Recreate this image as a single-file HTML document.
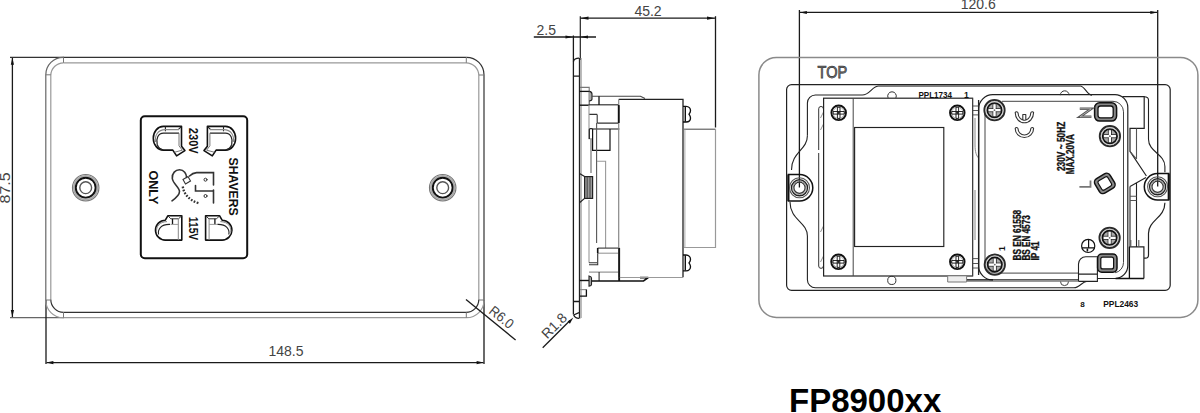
<!DOCTYPE html>
<html><head><meta charset="utf-8">
<style>
html,body{margin:0;padding:0;background:#fff;}
body{width:1200px;height:413px;overflow:hidden;}
svg{display:block;}
text{font-family:"Liberation Sans",sans-serif;}
.d{stroke:#1a1a1a;stroke-width:1.3;fill:none;}
.k{stroke:#333;stroke-width:1.2;fill:none;}
.g{stroke:#999;stroke-width:1.2;fill:none;}
.m{stroke:#666;stroke-width:1.2;fill:none;}
.ar{fill:#111;stroke:none;}
.dim{font-size:14px;fill:#444;}
</style></head>
<body>
<svg width="1200" height="413" viewBox="0 0 1200 413">

<!-- ============ LEFT VIEW (front) ============ -->
<g id="front">
  <!-- 87.5 dimension -->
  <line class="k" x1="10" y1="57.3" x2="64" y2="57.3"/>
  <line class="m" x1="10" y1="317.6" x2="64" y2="317.6"/>
  <line class="d" x1="12.4" y1="58" x2="12.4" y2="317"/>
  <path class="ar" d="M12.4 57.8 L14 64.7 L10.8 64.7Z"/>
  <path class="ar" d="M12.4 317 L14 310.1 L10.8 310.1Z"/>
  <text class="dim" transform="translate(10.3,187.9) rotate(-90)" text-anchor="middle" font-size="15" textLength="31" lengthAdjust="spacingAndGlyphs">87.5</text>
  <!-- 148.5 dimension -->
  <line class="d" x1="46" y1="300" x2="46" y2="364"/>
  <line class="d" x1="484" y1="300" x2="484" y2="364"/>
  <line class="d" x1="46.5" y1="362.6" x2="483.5" y2="362.6"/>
  <path class="ar" d="M46.5 362.6 L53.4 361 L53.4 364.2Z"/>
  <path class="ar" d="M483.5 362.6 L476.6 361 L476.6 364.2Z"/>
  <text class="dim" x="286" y="356" text-anchor="middle">148.5</text>
  <!-- plate outline -->
  <path class="k" d="M63.3 57.3 H466.5"/>
  <path class="k" d="M466.5 57.3 A17.5 17.5 0 0 1 484 74.8 V300.2"/>
  <path class="m" d="M45.8 300.2 V74.8 A17.5 17.5 0 0 1 63.3 57.3"/>
  <path class="g" d="M484 300.2 A17.5 17.5 0 0 1 466.5 317.7 H63.3 A17.5 17.5 0 0 1 45.8 300.2"/>
  <path class="g" d="M63.8 62.8 H466 A12.8 12.8 0 0 1 478.8 75.6 V299.5"/>
  <path class="g" d="M50.8 299.5 V75.6 A12.8 12.8 0 0 1 63.6 62.8"/>
  <path class="k" d="M478.8 299.5 A12.8 12.8 0 0 1 466 312.3 H63.6"/>
  <path class="k" d="M63.6 312.3 A12.8 12.8 0 0 1 50.8 299.5"/>
  <path d="M45.8 74.8 H50.8 M63.5 57.3 V62.8 M466.3 57.3 V62.8 M479 75 H484 M479 300 H484 M466.3 312.3 V317.7 M63.5 312.3 V317.7 M45.8 300 H50.8" stroke="#777" stroke-width="1" fill="none"/>
  <!-- R6.0 leader -->
  <line class="d" x1="466" y1="299.5" x2="515.6" y2="340"/>
  <text class="dim" transform="translate(488,312.5) rotate(39)" font-size="13" textLength="27" lengthAdjust="spacingAndGlyphs">R6.0</text>
  <!-- screws -->
  <g id="scr" fill="none">
    <circle cx="85.7" cy="187.7" r="13.2" stroke="#777" stroke-width="1.2"/>
    <circle cx="85.7" cy="187.7" r="11.8" stroke="#aaa" stroke-width="1.8"/>
    <circle cx="85.7" cy="187.7" r="9.9" stroke="#111" stroke-width="1.9"/>
    <circle cx="85.7" cy="187.7" r="5.9" stroke="#555" stroke-width="1.4"/>
  </g>
  <g transform="translate(357,0)" fill="none">
    <circle cx="85.7" cy="187.7" r="13.2" stroke="#777" stroke-width="1.2"/>
    <circle cx="85.7" cy="187.7" r="11.8" stroke="#aaa" stroke-width="1.8"/>
    <circle cx="85.7" cy="187.7" r="9.9" stroke="#111" stroke-width="1.9"/>
    <circle cx="85.7" cy="187.7" r="5.9" stroke="#555" stroke-width="1.4"/>
  </g>
  <!-- face panel -->
  <rect x="140.8" y="116.2" width="106.4" height="142" rx="4" fill="none" stroke="#111" stroke-width="2"/>
  <!-- face panel contents -->
  <g id="sockTL" stroke-linejoin="round">
    <path d="M163.3 126.4 H181.5 V146.2 L184.9 150.6 L176.6 155.9 L172.8 150.1 H163.3 A10 11.85 0 0 1 163.3 126.4 Z" fill="none" stroke="#111" stroke-width="1.6"/>
    <path d="M165.4 126.6 V131.2 M178.2 129.6 L181.3 126.6" stroke="#222" stroke-width="1.1" fill="none"/>
    <path d="M179 129.6 H165.4 C157.5 129.6 154.5 136 155.6 142" stroke="#888" stroke-width="1.1" fill="none"/>
    <path d="M179 133.2 H163.5 C158 133.2 155.8 139 157.2 144.5 C158.3 147.5 160.5 149.5 163.3 150" stroke="#222" stroke-width="1.2" fill="none"/>
    <path d="M179 133.2 V145.8 L182.3 150.2 M174.6 152.2 L182.3 150.2" stroke="#777" stroke-width="1" fill="none"/>
  </g>
  <g transform="translate(388.9,0) scale(-1,1)" stroke-linejoin="round">
    <path d="M163.3 126.4 H181.5 V146.2 L184.9 150.6 L176.6 155.9 L172.8 150.1 H163.3 A10 11.85 0 0 1 163.3 126.4 Z" fill="none" stroke="#111" stroke-width="1.6"/>
    <path d="M165.4 126.6 V131.2 M178.2 129.6 L181.3 126.6" stroke="#222" stroke-width="1.1" fill="none"/>
    <path d="M179 129.6 H165.4 C157.5 129.6 154.5 136 155.6 142" stroke="#888" stroke-width="1.1" fill="none"/>
    <path d="M179 133.2 H163.5 C158 133.2 155.8 139 157.2 144.5 C158.3 147.5 160.5 149.5 163.3 150" stroke="#222" stroke-width="1.2" fill="none"/>
    <path d="M179 133.2 V145.8 L182.3 150.2 M174.6 152.2 L182.3 150.2" stroke="#777" stroke-width="1" fill="none"/>
  </g>
  <g id="sockBL" stroke-linejoin="round">
    <path d="M167.8 215.8 H181.8 V240.1 H165.3 A9.8 9.95 0 0 1 165.3 220.2 L167.8 215.8 Z" fill="none" stroke="#111" stroke-width="1.6"/>
    <path d="M167.8 215.8 L170.8 218.8 H178.5 L181.8 215.8" stroke="#333" stroke-width="1" fill="none"/>
    <path d="M178.3 218.8 V240" stroke="#888" stroke-width="1" fill="none"/>
    <path d="M172.5 218.8 V224.4" stroke="#111" stroke-width="1.3" fill="none"/>
    <path d="M170.5 224.4 H178.3" stroke="#999" stroke-width="1" fill="none"/>
    <path d="M170 224.4 C161 224 157.5 229.5 158.6 234.5" stroke="#222" stroke-width="1.1" fill="none"/>
    <path d="M167 221.6 C159.5 221.8 156 226.5 156.6 232" stroke="#888" stroke-width="1" fill="none"/>
  </g>
  <g transform="translate(387.4,0) scale(-1,1)" stroke-linejoin="round">
    <path d="M167.8 215.8 H181.8 V240.1 H165.3 A9.8 9.95 0 0 1 165.3 220.2 L167.8 215.8 Z" fill="none" stroke="#111" stroke-width="1.6"/>
    <path d="M167.8 215.8 L170.8 218.8 H178.5 L181.8 215.8" stroke="#333" stroke-width="1" fill="none"/>
    <path d="M178.3 218.8 V240" stroke="#888" stroke-width="1" fill="none"/>
    <path d="M172.5 218.8 V224.4" stroke="#111" stroke-width="1.3" fill="none"/>
    <path d="M170.5 224.4 H178.3" stroke="#999" stroke-width="1" fill="none"/>
    <path d="M170 224.4 C161 224 157.5 229.5 158.6 234.5" stroke="#222" stroke-width="1.1" fill="none"/>
    <path d="M167 221.6 C159.5 221.8 156 226.5 156.6 232" stroke="#888" stroke-width="1" fill="none"/>
  </g>
  <g font-weight="bold" fill="#111" font-size="12">
    <text transform="translate(189.3,127.8) rotate(90)" font-size="13" textLength="26" lengthAdjust="spacingAndGlyphs">230V</text>
    <text transform="translate(189.3,216.8) rotate(90)" font-size="13" textLength="23.4" lengthAdjust="spacingAndGlyphs">115V</text>
    <text transform="translate(229,157.6) rotate(90)" font-size="13.6" textLength="58" lengthAdjust="spacingAndGlyphs">SHAVERS</text>
    <text transform="translate(148.7,170.5) rotate(90)" font-size="13.6" textLength="33.8" lengthAdjust="spacingAndGlyphs">ONLY</text>
  </g>
  <!-- shaver symbol -->
  <g fill="none" stroke="#333" stroke-width="1.6" stroke-linecap="round">
    <path d="M172 200.8 C176 198 179.5 195.5 179.5 191.5 C179.5 187 173 184 172.3 178.5 C171.8 173 175.5 169.8 179.5 169.8 C184 169.8 186.5 173.5 186.6 177.5"/>
    <path d="M183 179.5 L188 176.5 L190.5 181 L185.5 184 Z" stroke-width="1.1"/>
    <path d="M189.5 176 C191.5 174 193.5 172.8 196.6 172.6 H213.5 V185" />
    <path d="M195.5 185.6 V191 H213.5 M213.5 190 V203"/>
    <path d="M182.8 186.5 C183.6 193 188 199.8 198.5 203.2" stroke-dasharray="1.7 1.5" stroke-width="2.3" stroke-linecap="butt"/>
    <circle cx="205.5" cy="179.7" r="1.5" stroke-width="1"/>
    <circle cx="205.5" cy="196" r="1.5" stroke-width="1"/>
  </g>

</g>

<!-- ============ SIDE VIEW ============ -->
<g id="side">
  <!-- 45.2 dim -->
  <line x1="580.3" y1="16.2" x2="580.3" y2="60" stroke="#222" stroke-width="1.2"/>
  <line class="d" x1="715.5" y1="16.2" x2="715.5" y2="127.5"/>
  <line class="d" x1="580.5" y1="18.2" x2="715" y2="18.2"/>
  <path class="ar" d="M580.6 18.2 L588.5 16.6 L588.5 19.8Z"/>
  <path class="ar" d="M714.9 18.2 L707 16.6 L707 19.8Z"/>
  <text class="dim" x="648" y="16" text-anchor="middle">45.2</text>
  <!-- 2.5 dim -->
  <line class="d" x1="533.8" y1="37" x2="596" y2="37"/>
  <path class="ar" d="M573 37 L565.5 35.4 L565.5 38.6Z"/>
  <path class="ar" d="M580.5 37 L588 35.4 L588 38.6Z"/>
  <text class="dim" x="546.3" y="35.3" text-anchor="middle" font-size="15">2.5</text>
  <line class="d" x1="573.4" y1="35.5" x2="573.4" y2="314.5"/>
  <line x1="579.6" y1="58" x2="579.6" y2="318.4" stroke="#222" stroke-width="1.5"/>
  <line x1="581.3" y1="58" x2="581.3" y2="318" stroke="#bbb" stroke-width="1.4"/>
  <path class="d" d="M573.4 61.5 C574 59.2 576 58.2 579 58.2"/>
  <path class="d" d="M573.4 76.2 H579 M573.6 301.5 H579 M573.6 314.8 C574.5 317 576 318.4 579 318.4 M573.6 315 L579 312.6"/>
  <!-- internals -->
  <g fill="none" stroke-width="1.1">
    <path stroke="#777" d="M580 87.4 H589.2 V91.4"/>
    <path stroke="#111" stroke-width="1.3" d="M579.5 91.4 H589.2"/>
    <path stroke="#555" d="M589.2 91.4 V105.4"/>
    <path stroke="#222" fill="#aaa" d="M589.2 91.4 C591 91.6 592 92.5 592 94 V99 C592 100 591 100.9 589.2 100.9"/>
    <path stroke="#111" stroke-width="1.4" d="M579.5 105.2 H589.2"/>
    <path stroke="#333" stroke-width="1.2" d="M589.2 104.8 H618.7"/>
    <path stroke="#444" d="M592 96.3 H640.5 L645 98.6"/><path stroke="#111" stroke-width="1.3" d="M599 96.3 V105"/>
    <path stroke="#111" stroke-width="1.6" d="M618.7 105.4 V122.8"/>
    <path stroke="#333" d="M597.2 123.1 H618.7 M597.2 114.4 V123.1 M589 114.4 H597.2"/>
    <path stroke="#999" d="M589 105 V138.7 H592"/>
    <path stroke="#111" stroke-width="1.2" d="M592 129 H619.4 M592.6 129 V150.3 H610 V129"/>
    <path stroke="#222" stroke-width="1.2" d="M589.3 139 V129.5 C589.3 128.8 589.8 128.6 590.5 128.6 H591.5 C592.2 128.6 592.6 129 592.6 129.5"/>
    <path stroke="#666" stroke-width="1.1" d="M591 139 V173"/>
    <path stroke="#555" d="M596.6 123.1 V235"/>
    <path stroke="#555" d="M596.6 235 V243"/>
    <path stroke="#999" d="M596.9 161.2 H605.6 V248"/>
    <path stroke="#999" d="M589 200 V262.7"/>
    <!-- terminal -->
    <path stroke="#222" stroke-width="1.2" d="M579.5 173.4 L584.6 176.6 M579.5 202.8 L584.6 198.4"/>
    <rect x="584.6" y="176.6" width="8" height="21.8" fill="#999" stroke="#222" stroke-width="1.2"/>
    <path stroke="#444" stroke-width="1" d="M587.2 177 V198 M590 177 V198"/>
    <path stroke="#333" d="M597.7 248.1 H619.4"/>
    <path stroke="#999" d="M597.7 253.2 H619.4"/>
    <path stroke="#111" stroke-width="1.6" d="M597.7 248 V253.2"/>
    <path stroke="#333" d="M597.7 253.2 V264.8 H589 M589 262.7 H597"/>
    <path stroke="#888" d="M589 272.1 H619.4"/><path stroke="#333" d="M599.1 272.1 V281"/>
    <path stroke="#111" stroke-width="1.4" d="M619.4 248 V281"/>
    <path stroke="#111" stroke-width="1.4" d="M579.5 280.5 H589"/><path stroke="#111" stroke-width="1.6" d="M591.5 281 H643.5 L648.3 277.6 M640 277.6 H648.3"/>
    
    <path stroke="#222" fill="#aaa" d="M589 276 C590.5 276.3 591.5 277 591.5 278 V284.5 C591.5 285.5 590.5 286 589 286.2 Z"/>
    <path stroke="#888" d="M580 289.6 H586.4"/><path stroke="#111" stroke-width="1.3" d="M586.4 289.6 V296.2 H580"/>
  </g>
  <!-- big box -->
  <path d="M618.7 99.4 H683 V277.3" fill="none" stroke="#222" stroke-width="1.3"/>
  <path d="M619.4 277.5 H683" fill="none" stroke="#999" stroke-width="1.2"/>
  <path d="M618.7 99.4 V277.3" fill="none" stroke="#888" stroke-width="1.2"/>
  <path d="M618.7 105 V123" fill="none" stroke="#111" stroke-width="1.6"/>
  <path d="M619 248 V281" fill="none" stroke="#111" stroke-width="1.4"/>
  <path d="M684 129.2 H715.5" stroke="#555" stroke-width="1.1" fill="none"/><path d="M715.5 129.2 V247.5 H684" class="g"/>
  <line x1="684.9" y1="129.5" x2="684.9" y2="247.5" stroke="#aaa" stroke-width="1"/>
  <!-- screw heads -->
  <g fill="none" stroke="#111" stroke-width="1.35">
    <path d="M683 106.3 H686 C689 106.3 690.5 108.5 690.5 110.5 C690.5 112.5 689.5 113.5 689 114.2 C689.5 115 690.5 116 690.5 118 C690.5 120 689 122 686 122 H683"/>
    <path d="M685.3 106.5 V121.8" stroke-width="1.4"/>
    <path d="M683 255 H686 C689 255 690.5 257.2 690.5 259.2 C690.5 261.2 689.5 262.2 689 262.9 C689.5 263.7 690.5 264.7 690.5 266.7 C690.5 268.7 689 270.8 686 270.8 H683"/>
    <path d="M685.3 255.2 V270.6" stroke-width="1.4"/>
  </g>
  <!-- R1.8 leader -->
  <line class="d" x1="542.7" y1="347.8" x2="570" y2="320.5"/>
  <text class="dim" transform="translate(547.2,339.6) rotate(-45)" font-size="13" textLength="29.5" lengthAdjust="spacingAndGlyphs">R1.8</text>
  <path class="ar" d="M573.3 317.5 L567.6 321.5 L569.9 323.8Z"/>
</g>

<!-- ============ BACK VIEW ============ -->
<g id="back">
  <line class="d" x1="799.4" y1="10" x2="799.4" y2="187.5"/>
  <line class="d" x1="1157.7" y1="10" x2="1157.7" y2="186.5"/>
  <line class="d" x1="800" y1="12.4" x2="1157.2" y2="12.4"/>
  <path class="ar" d="M800 12.5 L806.9 10.9 L806.9 14.1Z"/>
  <path class="ar" d="M1157.2 12.5 L1150.3 10.9 L1150.3 14.1Z"/>
  <text class="dim" x="978.3" y="9.3" text-anchor="middle">120.6</text>
  <rect x="758.9" y="57.4" width="439" height="260" rx="17.5" fill="none" stroke="#8a8a8a" stroke-width="1.5"/>
  <rect x="786.6" y="84.6" width="383.6" height="205.7" rx="5" fill="none" stroke="#222" stroke-width="1.2"/>
  <text x="817.6" y="77.9" font-size="16.4" fill="#888" stroke="#333" stroke-width="0.75" textLength="29.6" lengthAdjust="spacingAndGlyphs">TOP</text>
  <!-- frame -->
  <g fill="none" stroke="#222" stroke-width="1.1">
    <path d="M807.4 135.7 V103 A8 8 0 0 1 815.4 95 H862.3 C870 95 872 86 879 86 H1080 C1085 86 1087 95.2 1092 95.2"/>
    <path d="M807.4 135.7 C807.4 150 791.5 152 791.5 170"/>
    <path d="M790 202 C790 220 807.4 222 807.4 236 V279.8 A8 8 0 0 0 815.4 287.8 H1073.8 C1080 287.8 1082 281.5 1086.5 281.5"/>
    <path d="M1122.4 96.7 H1144.2 V128.4 H1130 V151.3 L1146.4 176" stroke-width="1.2"/>
    <path d="M1136.5 128.4 V159 M1130 151.3 L1136.5 159" stroke="#555"/>
    <path d="M1144.2 96.7 C1147 96.7 1148.5 97.5 1148.5 100 V139.3 C1148.5 152 1164.9 154 1164.9 166.5 V172.2"/>
    <path d="M1130 186.4 L1146 177.6 M1130 186.4 V247 M1136.5 183 V247"/>
    <path d="M1130 196.2 H1136.5 M1130 200.5 H1136.5" stroke="#555"/>
    <path d="M1129.4 246.8 H1143.9 V278.5 M1143.9 258.2 H1145.5 C1147.5 258.2 1148.5 257 1148.5 255 V233.3 C1148.5 220 1164.9 218 1164.9 202.7" stroke-width="1.2"/>
    <path d="M1130.8 240 V246.8 M1138.8 240 V246.8" stroke="#555"/>
  </g>
  <line x1="878" y1="86.1" x2="1081" y2="86.1" stroke="#808080" stroke-width="1.8"/>
  <!-- mount screws (D shapes) -->
  <g id="mntL" fill="none">
    <path d="M788.4 174.6 H799.6 A13.2 13.2 0 0 1 799.6 201 H788.4 Z" stroke="#111" stroke-width="1.5"/>
    <path d="M788.4 174.6 V201" stroke="#111" stroke-width="2"/>
    <circle cx="799.5" cy="187.8" r="10" stroke="#555" stroke-width="1.1"/>
    <circle cx="799.5" cy="187.8" r="8" stroke="#222" stroke-width="1.4"/>
    <circle cx="799.5" cy="187.8" r="6.8" stroke="#999" stroke-width="1"/>
    <circle cx="799.5" cy="187.8" r="5.6" stroke="#333" stroke-width="1.2"/>
  </g>
  <g transform="translate(1957.1,-1) scale(-1,1)" fill="none">
    <path d="M788.4 174.6 H799.6 A13.2 13.2 0 0 1 799.6 201 H788.4 Z" stroke="#111" stroke-width="1.5"/>
    <path d="M788.4 174.6 V201" stroke="#111" stroke-width="2"/>
    <circle cx="799.5" cy="187.8" r="10" stroke="#555" stroke-width="1.1"/>
    <circle cx="799.5" cy="187.8" r="8" stroke="#222" stroke-width="1.4"/>
    <circle cx="799.5" cy="187.8" r="6.8" stroke="#999" stroke-width="1"/>
    <circle cx="799.5" cy="187.8" r="5.6" stroke="#333" stroke-width="1.2"/>
  </g>
  <!-- left clip -->
  <g fill="none" stroke="#333" stroke-width="1">
    <path d="M818.7 150 V108.8 A2.3 2.3 0 0 1 823.4 108.8"/>
    <path d="M818.7 153 V266 A2.3 2.3 0 0 0 823.4 266"/>
    <path d="M820.5 118 L823.5 112 M820.5 130 L823.5 124 M820.5 232 L823.5 226 M820.5 262 L823.5 256" stroke="#777" stroke-width="0.8"/>
  </g>
  <!-- transformer -->
  <g fill="none">
    <rect x="823.6" y="98.2" width="149" height="177.8" stroke="#222" stroke-width="1.2"/>
    <line x1="853.2" y1="98.2" x2="853.2" y2="276" stroke="#444" stroke-width="1"/>
    <rect x="854.6" y="127.5" width="89.2" height="119" stroke="#222" stroke-width="1.15"/>
    <line x1="853.2" y1="257.7" x2="972.6" y2="257.7" stroke="#888" stroke-width="1" stroke-opacity="0"/>
    <path d="M888.1 97.9 A4.3 4.3 0 1 1 895.9 97.9" stroke="#333" stroke-width="1"/>
    <circle cx="891.8" cy="280.4" r="4.1" stroke="#333" stroke-width="1"/>
  </g>
  <!-- connector strip -->
  <g fill="none" stroke="#444" stroke-width="1">
    <path d="M972.6 98.2 V276" />
    <path d="M975 118 V145 C975 152 976.5 156 978.6 158 M975 190 V240" stroke="#888"/>
    <path d="M978.6 100 V275" stroke="#222" stroke-width="1.3"/>
    <path d="M972.6 106 H979 M972.6 110.5 H979 M972.6 114.9 H979" stroke-width="0.9"/>
    <path d="M947.7 276.3 V282 H966.6 V276.3" stroke="#777" fill="#eee"/>
    <path d="M972.6 258.6 H979 M972.6 263.5 H979 M972.6 268 H979" stroke-width="0.9"/>
  </g>
  <!-- PCB module -->
  <g fill="none">
    <path d="M1078.5 279.9 H992.7 A14 14 0 0 1 978.7 265.9 V108.7 A14 14 0 0 1 992.7 94.7 H1115 A12.8 12.8 0 0 1 1127.8 107.5 V265.4 A13 13 0 0 1 1115.5 278.5 H1097.4" stroke="#222" stroke-width="1.2"/>
    <path d="M1078.5 273.1 H995 A10 10 0 0 1 985 263.1 V114 M1002 101.3 H1113 A10.5 10.5 0 0 1 1123.5 111.8 V262.5 A10.5 10.5 0 0 1 1115.5 272.7 V254" stroke="#444" stroke-width="1"/>
    <path d="M1078.5 282.1 V264 A7.3 7.3 0 0 1 1085.8 256.7 H1097.4 V281.4 H1078.5 M1078.5 274.1 H1097.4" stroke="#222" stroke-width="1.1"/>
  </g>

</g>
</g>


<g id="screwuses">
  <g transform="translate(838.7,112.8)" fill="none">
    <circle cx="0" cy="0" r="7.3" stroke="#111" stroke-width="1.9"/>
    <circle cx="0" cy="0" r="5.7" stroke="#999" stroke-width="0.8"/>
    <path d="M-5.6 -1.3 H5.6 V1.3 H-5.6 Z M-1.3 -5.6 V5.6 H1.3 V-5.6 Z" stroke="#111" stroke-width="0.9"/>
    <circle cx="0" cy="0" r="1.2" fill="#222"/>
  </g>
  <g transform="translate(957.3,112.8)" fill="none">
    <circle cx="0" cy="0" r="7.3" stroke="#111" stroke-width="1.9"/>
    <circle cx="0" cy="0" r="5.7" stroke="#999" stroke-width="0.8"/>
    <path d="M-5.6 -1.3 H5.6 V1.3 H-5.6 Z M-1.3 -5.6 V5.6 H1.3 V-5.6 Z" stroke="#111" stroke-width="0.9"/>
    <circle cx="0" cy="0" r="1.2" fill="#222"/>
  </g>
  <g transform="translate(838.5,261.8)" fill="none">
    <circle cx="0" cy="0" r="7.3" stroke="#111" stroke-width="1.9"/>
    <circle cx="0" cy="0" r="5.7" stroke="#999" stroke-width="0.8"/>
    <path d="M-5.6 -1.3 H5.6 V1.3 H-5.6 Z M-1.3 -5.6 V5.6 H1.3 V-5.6 Z" stroke="#111" stroke-width="0.9"/>
    <circle cx="0" cy="0" r="1.2" fill="#222"/>
  </g>
  <g transform="translate(957.3,261.8)" fill="none">
    <circle cx="0" cy="0" r="7.3" stroke="#111" stroke-width="1.9"/>
    <circle cx="0" cy="0" r="5.7" stroke="#999" stroke-width="0.8"/>
    <path d="M-5.6 -1.3 H5.6 V1.3 H-5.6 Z M-1.3 -5.6 V5.6 H1.3 V-5.6 Z" stroke="#111" stroke-width="0.9"/>
    <circle cx="0" cy="0" r="1.2" fill="#222"/>
  </g>
  <g transform="translate(994.5,110.2)">
  <circle cx="0" cy="0" r="10.1" fill="none" stroke="#2a2a2a" stroke-width="2"/>
  <circle cx="0" cy="0" r="8.8" fill="none" stroke="#bbb" stroke-width="0.8"/>
  <circle cx="0" cy="0" r="7.2" fill="#aaa" stroke="#111" stroke-width="1.7"/>
  <path d="M-6.2 -1.5 H6.2 V1.5 H-6.2 Z M-1.5 -6.2 H1.5 V6.2 H-1.5 Z" fill="none" stroke="#222" stroke-width="0.9"/>
  <path d="M-6 -1.1 H6 V1.1 H-6 Z M-1.1 -6 H1.1 V6 H-1.1 Z" fill="#fff" stroke="none"/>
  <circle cx="0" cy="0" r="0.9" fill="#666"/>
</g>
  <g transform="translate(1109.9,136.2)">
  <circle cx="0" cy="0" r="10.1" fill="none" stroke="#2a2a2a" stroke-width="2"/>
  <circle cx="0" cy="0" r="8.8" fill="none" stroke="#bbb" stroke-width="0.8"/>
  <circle cx="0" cy="0" r="7.2" fill="#aaa" stroke="#111" stroke-width="1.7"/>
  <path d="M-6.2 -1.5 H6.2 V1.5 H-6.2 Z M-1.5 -6.2 H1.5 V6.2 H-1.5 Z" fill="none" stroke="#222" stroke-width="0.9"/>
  <path d="M-6 -1.1 H6 V1.1 H-6 Z M-1.1 -6 H1.1 V6 H-1.1 Z" fill="#fff" stroke="none"/>
  <circle cx="0" cy="0" r="0.9" fill="#666"/>
</g>
  <g transform="translate(994.8,264.6)">
  <circle cx="0" cy="0" r="10.1" fill="none" stroke="#2a2a2a" stroke-width="2"/>
  <circle cx="0" cy="0" r="8.8" fill="none" stroke="#bbb" stroke-width="0.8"/>
  <circle cx="0" cy="0" r="7.2" fill="#aaa" stroke="#111" stroke-width="1.7"/>
  <path d="M-6.2 -1.5 H6.2 V1.5 H-6.2 Z M-1.5 -6.2 H1.5 V6.2 H-1.5 Z" fill="none" stroke="#222" stroke-width="0.9"/>
  <path d="M-6 -1.1 H6 V1.1 H-6 Z M-1.1 -6 H1.1 V6 H-1.1 Z" fill="#fff" stroke="none"/>
  <circle cx="0" cy="0" r="0.9" fill="#666"/>
</g>
  <g transform="translate(1109.6,237.8)">
  <circle cx="0" cy="0" r="10.1" fill="none" stroke="#2a2a2a" stroke-width="2"/>
  <circle cx="0" cy="0" r="8.8" fill="none" stroke="#bbb" stroke-width="0.8"/>
  <circle cx="0" cy="0" r="7.2" fill="#aaa" stroke="#111" stroke-width="1.7"/>
  <path d="M-6.2 -1.5 H6.2 V1.5 H-6.2 Z M-1.5 -6.2 H1.5 V6.2 H-1.5 Z" fill="none" stroke="#222" stroke-width="0.9"/>
  <path d="M-6 -1.1 H6 V1.1 H-6 Z M-1.1 -6 H1.1 V6 H-1.1 Z" fill="#fff" stroke="none"/>
  <circle cx="0" cy="0" r="0.9" fill="#666"/>
</g>
</g>

<!-- back view texts & terminals -->
<g font-weight="bold" fill="#111">
  <text x="918.4" y="98.3" font-size="8.7" textLength="33.6" lengthAdjust="spacingAndGlyphs">PPL1734</text>
  <text x="964" y="98.3" font-size="8.7">1</text>
  <text x="1103.2" y="306.8" font-size="8.7" textLength="35" lengthAdjust="spacingAndGlyphs">PPL2463</text>
  <text x="1080.2" y="306.8" font-size="8" textLength="4.5" lengthAdjust="spacingAndGlyphs">8</text>
  <text transform="translate(1065.4,171.1) rotate(-90)" font-size="10" textLength="49.4" lengthAdjust="spacingAndGlyphs" stroke="#111" stroke-width="0.35">230V ~ 50HZ</text>
  <text transform="translate(1074,174.2) rotate(-90)" font-size="10" textLength="40" lengthAdjust="spacingAndGlyphs" stroke="#111" stroke-width="0.35">MAX.20VA</text>
  <text transform="translate(1020.6,260.6) rotate(-90)" font-size="10" textLength="50.8" lengthAdjust="spacingAndGlyphs" stroke="#111" stroke-width="0.35">BS EN 61558</text>
  <text transform="translate(1029.8,260.6) rotate(-90)" font-size="10" textLength="45.3" lengthAdjust="spacingAndGlyphs" stroke="#111" stroke-width="0.35">BS EN 4573</text>
  <text transform="translate(1038.5,260.6) rotate(-90)" font-size="10" textLength="19.2" lengthAdjust="spacingAndGlyphs" stroke="#111" stroke-width="0.35">IP 41</text>
  <text transform="translate(1005.2,251) rotate(-90)" font-size="8.5">1</text>
</g>
<!-- CE mark -->
<g fill="none" stroke="#333" stroke-width="1.1" stroke-linejoin="round">
  <path d="M1015.2 112.6 A9.2 10.2 0 0 0 1033.6 112.6 A1.5 1.5 0 0 0 1030.8 112.8 A6.4 7.4 0 0 1 1022.8 120.0 V114.5 H1025.8 V120.0 A6.4 7.4 0 0 1 1018 112.8 A1.5 1.5 0 0 0 1015.2 112.6 Z"/>
  <path d="M1015.2 128.4 A9.2 9.2 0 0 0 1033.6 128.4 A1.5 1.5 0 0 0 1030.8 128.6 A6.4 6.4 0 0 1 1018 128.6 A1.5 1.5 0 0 0 1015.2 128.4 Z"/>
</g>
<!-- N terminal -->
<g>
  <rect x="1094.6" y="102.8" width="22" height="18.3" rx="5" stroke="#111" stroke-width="1.5" fill="#888"/>
  <rect x="1098" y="106" width="15.2" height="11.8" rx="2.5" stroke="#111" stroke-width="1.3" fill="#fff"/>
  <path d="M1079.8 108.8 H1091.2 L1080 116.8 H1091.4" stroke="#555" stroke-width="2.6" fill="none"/>
  <path d="M1079.8 108.8 H1091.2 L1080 116.8 H1091.4" stroke="#bbb" stroke-width="0.8" fill="none"/>
</g>
<path d="M1060.3 95.2 A4.4 4.4 0 0 1 1069.1 95.2" stroke="#333" stroke-width="1" fill="none"/>
<!-- L terminal -->
<g transform="translate(1104.8,183.4) rotate(-31)">
  <rect x="-8.8" y="-8.4" width="17.6" height="16.8" rx="4.2" stroke="#111" stroke-width="1.5" fill="#888"/>
  <rect x="-5.6" y="-5.3" width="11.2" height="10.6" rx="1.8" stroke="#111" stroke-width="1.2" fill="#fff"/>
</g>
<path d="M1079.4 186.8 H1090.5 V180.5" fill="none" stroke="#777" stroke-width="1.8"/>
<!-- earth -->
<g fill="none" stroke="#111" stroke-width="1.2">
  <circle cx="1088.2" cy="245.9" r="6.6"/>
  <path d="M1082 247.8 H1094.4 M1088.6 239.4 V247.8"/>
  <path d="M1087.4 248.5 V251.5" stroke-width="1.6"/>
</g>
<path d="M1115.5 278.5 H1143.9 M1129.4 246.8 V278.5" stroke="#111" stroke-width="1.3" fill="none"/>
<g>
  <rect x="1097.6" y="254" width="19.4" height="18.2" rx="4.2" stroke="#111" stroke-width="1.5" fill="#888"/>
  <rect x="1100.8" y="257.1" width="12.8" height="11.8" rx="2" stroke="#111" stroke-width="1.2" fill="#fff"/>
</g>
<path d="M967 279.9 H993" stroke="#111" stroke-width="1.4" fill="none"/>
<path d="M967 281.5 H1078.5" stroke="#999" stroke-width="1" fill="none"/>
<path d="M1060.5 281.6 A4 4 0 0 0 1068.5 281.6" stroke="#444" stroke-width="1" fill="none"/>
<!-- title -->
<text x="789" y="411.8" font-size="33" font-weight="bold" fill="#000">FP8900xx</text>
</svg>
</body></html>
